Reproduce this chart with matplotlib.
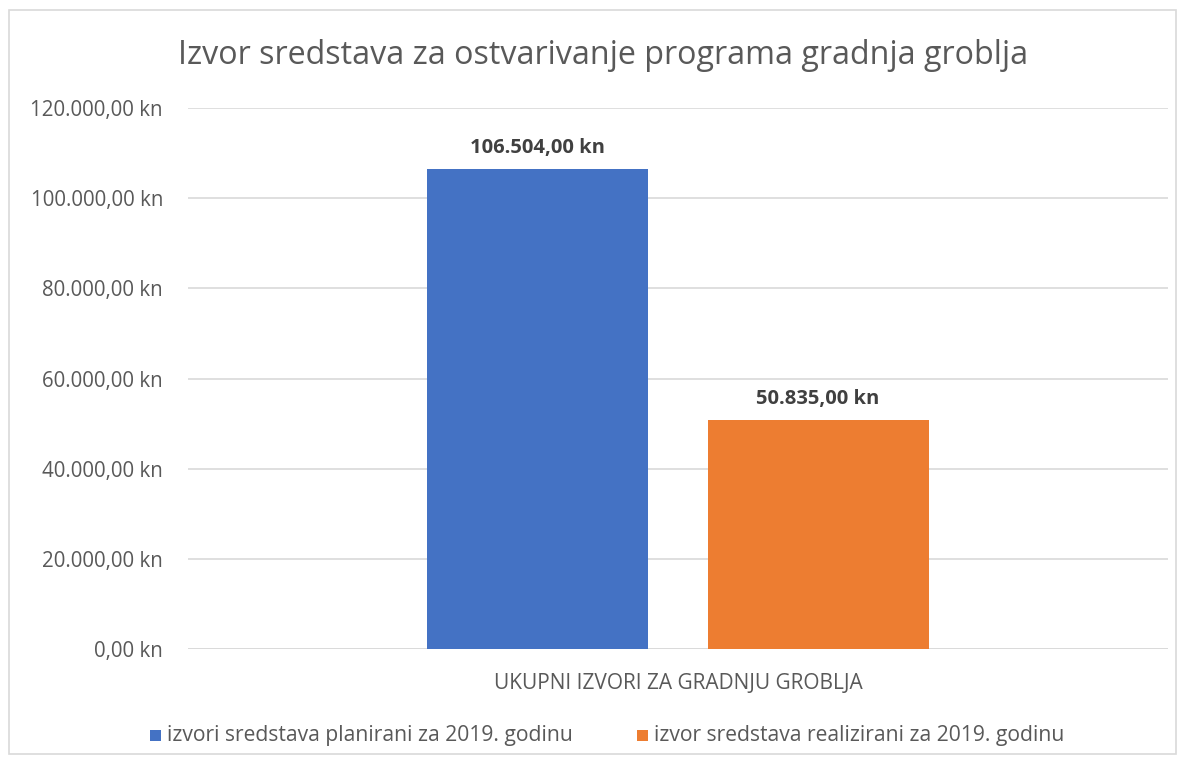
import matplotlib
matplotlib.use("Agg")
import matplotlib.pyplot as plt
from matplotlib.patches import Rectangle

title = "Izvor sredstava za ostvarivanje programa gradnja groblja"
category = "UKUPNI IZVORI ZA GRADNJU GROBLJA"
series_names = ["izvori sredstava planirani za 2019. godinu",
                "izvor sredstava realizirani za 2019. godinu"]
values = [106504.00, 50835.00]
colors = ["#4472C4", "#ED7D31"]
yticks = [0, 20000, 40000, 60000, 80000, 100000, 120000]

def fmt(v):
    s = f"{v:,.2f}"
    s = s.replace(",", "X").replace(".", ",").replace("X", ".")
    return s + " kn"

plt.rcParams['font.family'] = ['Open Sans', 'DejaVu Sans']
W, H = 1186, 764
fig = plt.figure(figsize=(W/100, H/100), dpi=100)
fig.patch.set_facecolor("white")

# outer border
fig.add_artist(Rectangle((9/W, 1 - 754/H), (1176-9)/W, (754-10)/H, transform=fig.transFigure,
                         fill=False, edgecolor="#D9D9D9", linewidth=1.2))

ax = fig.add_axes([188/W, 1 - 649/H, (1168-188)/W, (649-108)/H])
ax.set_xlim(-0.5, 0.5)
ax.set_ylim(0, 120000)
width = 0.2255
offsets = [-0.143, 0.143]
for off, v, c in zip(offsets, values, colors):
    ax.bar(off, v, width=width, color=c, zorder=3)
    ax.text(off, v + 2300, fmt(v), ha="center", va="bottom", fontsize=14.5,
            fontweight="bold", color="#404040", zorder=4)

ax.set_yticks(yticks)
ax.set_yticklabels([fmt(t) for t in yticks], fontsize=14.8, color="#595959")
ax.tick_params(axis="y", length=0, pad=18)
ax.set_xticks([0])
ax.set_xticklabels([category], fontsize=15, color="#595959")
ax.tick_params(axis="x", length=0, pad=17)
ax.grid(axis="y", color="#D9D9D9", linewidth=1.2, zorder=0)
for s in ax.spines.values():
    s.set_visible(False)
ax.axhline(0, color="#D9D9D9", linewidth=1.2, zorder=2)

fig.text(603/W, 1 - 56/H, title, ha="center", va="center", fontsize=23.2, color="#595959")

# legend
legend_items = [(150, series_names[0], colors[0]), (637, series_names[1], colors[1])]
for x, name, c in legend_items:
    fig.add_artist(Rectangle((x/W, 1 - 741/H), 11/W, 11/H, transform=fig.transFigure,
                             facecolor=c, edgecolor="none"))
    fig.text((x + 17)/W, 1 - 736/H, name, ha="left", va="center", fontsize=15.2, color="#595959")

fig.savefig("out.png", dpi=100, facecolor="white")
